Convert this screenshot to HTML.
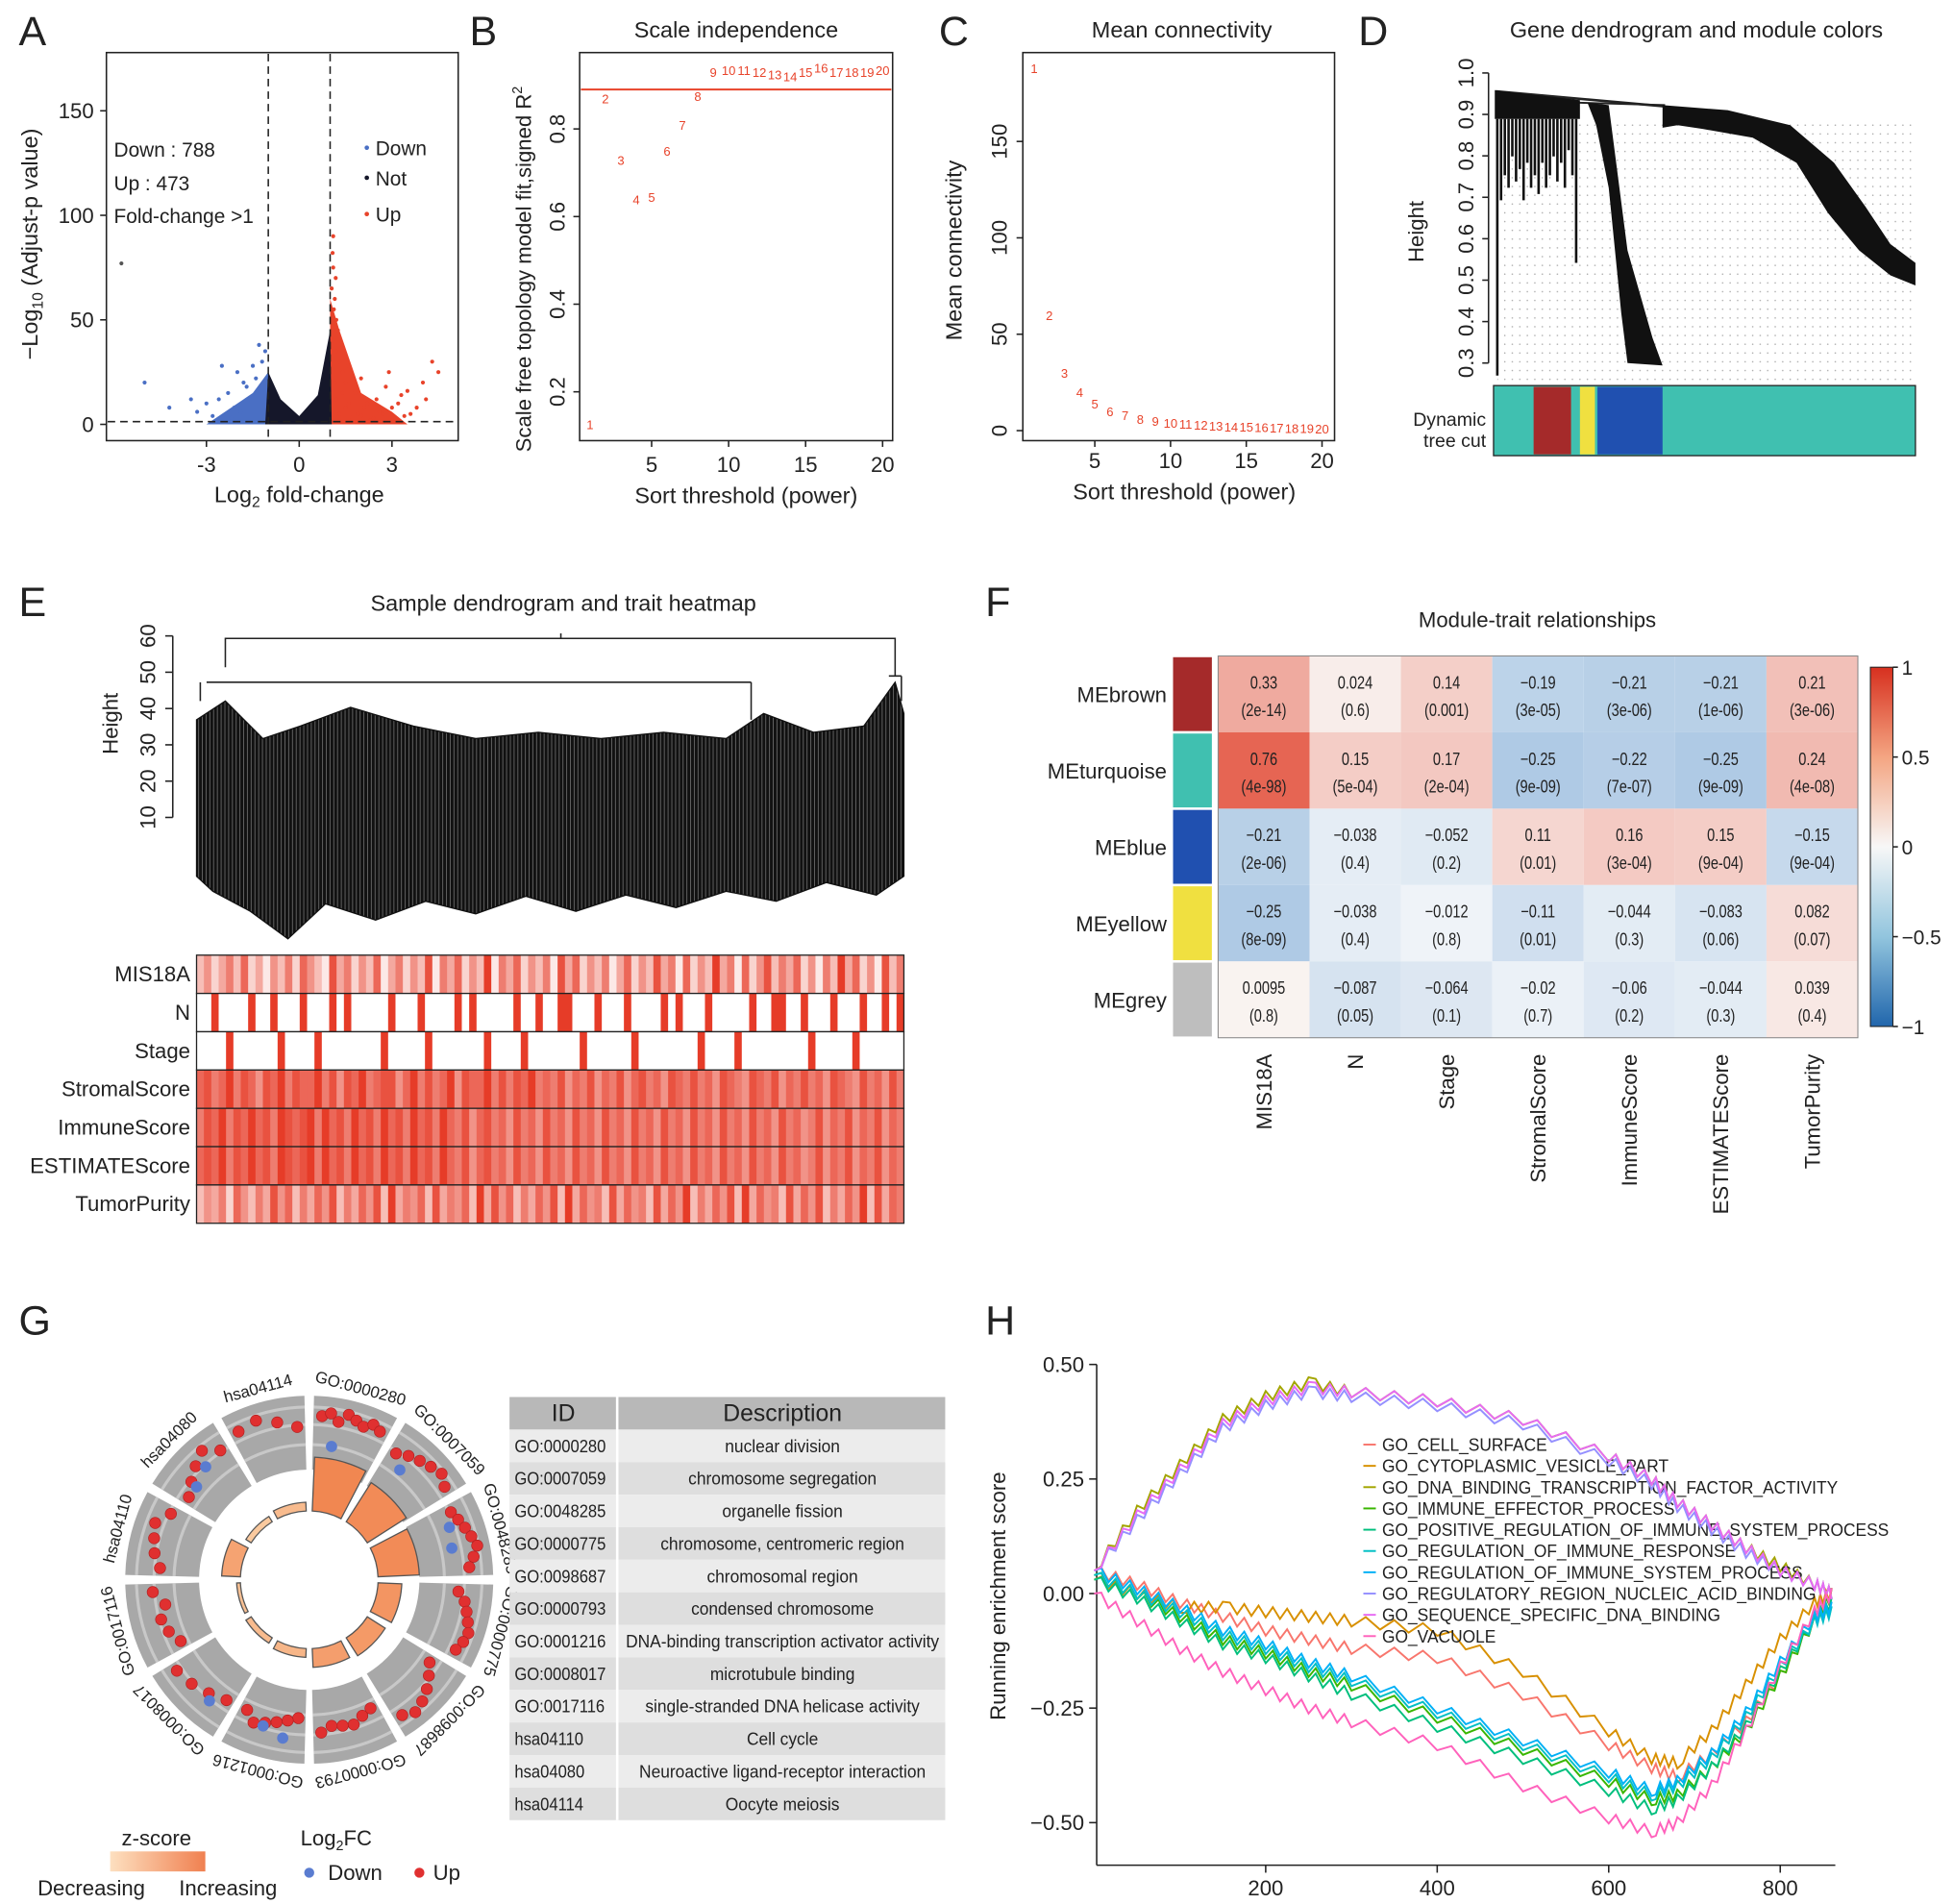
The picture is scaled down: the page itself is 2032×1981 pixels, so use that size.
<!DOCTYPE html>
<html><head><meta charset="utf-8">
<style>
html,body{margin:0;padding:0;background:#fff;}
svg{display:block;font-family:"Liberation Sans",sans-serif;}
</style></head>
<body>
<svg id="fig" xmlns="http://www.w3.org/2000/svg" width="2032" height="1981" viewBox="0 0 1560 1521" preserveAspectRatio="none">
<defs>
<pattern id="dots" width="6" height="7" patternUnits="userSpaceOnUse"><circle cx="2" cy="2" r="0.6" fill="#aaa"/></pattern>
<pattern id="vlines" width="3" height="4" patternUnits="userSpaceOnUse"><rect width="3" height="4" fill="#666"/><rect width="2.3" height="4" fill="#111"/></pattern>
<pattern id="vlines2" width="2.5" height="4" patternUnits="userSpaceOnUse"><rect width="2.5" height="4" fill="#fff"/><rect width="1.5" height="4" fill="#111"/></pattern>
<linearGradient id="cbar" x1="0" y1="0" x2="0" y2="1"><stop offset="0" stop-color="#d7301f"/><stop offset="0.25" stop-color="#f4a582"/><stop offset="0.5" stop-color="#f7f7f7"/><stop offset="0.75" stop-color="#92c5de"/><stop offset="1" stop-color="#2166ac"/></linearGradient>
<linearGradient id="zbar" x1="0" y1="0" x2="1" y2="0"><stop offset="0" stop-color="#fde0c0"/><stop offset="1" stop-color="#f08050"/></linearGradient>
</defs>
</svg>
<script>
// ---------- data ----------
const volcUpX=[1.1,1.1,1.15,1.2,1.1,1.2,1.3,1.25,1.4,1.5,1.6,1.8,2.0,2.2,2.5,2.8,3.0,3.3,3.6,4.0,4.3,4.5,1.3,1.5,1.7,2.0,2.3,2.6,3.0,3.4,1.2,1.4,1.6,1.9,2.1,2.4,2.7,3.2,3.8,1.15,1.05,1.08,1.12,1.18,2.9,3.5,4.1];
const volcUpY=[90,75,60,50,40,35,30,45,25,20,28,15,22,10,12,18,8,14,5,20,30,25,5,8,3,4,2,6,2,4,12,15,10,5,8,3,5,10,8,20,65,82,55,70,25,16,12];
const volcDownX=[-1.2,-1.5,-1.8,-2.0,-2.3,-2.6,-3.0,-3.3,-1.4,-1.7,-2.1,-2.8,-3.5,-4.2,-5.0,-1.1,-1.3,-2.5,-1.6,-1.9,-2.2];
const volcDownY=[30,28,20,25,15,12,10,6,22,18,8,4,12,8,20,35,38,28,12,6,3];
const sfPower=[1,2,3,4,5,6,7,8,9,10,11,12,13,14,15,16,17,18,19,20];
const sfR2=[0.126,0.87,0.73,0.64,0.645,0.75,0.81,0.875,0.93,0.935,0.935,0.93,0.925,0.92,0.93,0.94,0.93,0.93,0.93,0.935];
const mcK=[188,60,30,20,14,10,8,6,5,4,3.5,3,2.5,2.2,2,1.8,1.6,1.4,1.3,1.2];
const modNames=["MEbrown","MEturquoise","MEblue","MEyellow","MEgrey"];
const modColors=["#a52a2a","#40c0b0","#2050b0","#f0e040","#bebebe"];
const traitNames=["MIS18A","N","Stage","StromalScore","ImmuneScore","ESTIMATEScore","TumorPurity"];
const corVals=[[0.33,0.024,0.14,-0.19,-0.21,-0.21,0.21],[0.76,0.15,0.17,-0.25,-0.22,-0.25,0.24],[-0.21,-0.038,-0.052,0.11,0.16,0.15,-0.15],[-0.25,-0.038,-0.012,-0.11,-0.044,-0.083,0.082],[0.0095,-0.087,-0.064,-0.02,-0.06,-0.044,0.039]];
const pVals=[["2e-14","0.6","0.001","3e-05","3e-06","1e-06","3e-06"],["4e-98","5e-04","2e-04","9e-09","7e-07","9e-09","4e-08"],["2e-06","0.4","0.2","0.01","3e-04","9e-04","9e-04"],["8e-09","0.4","0.8","0.01","0.3","0.06","0.07"],["0.8","0.05","0.1","0.7","0.2","0.3","0.4"]];
const traitRows=["MIS18A","N","Stage","StromalScore","ImmuneScore","ESTIMATEScore","TumorPurity"];
const traitStr=[
"352463724153627531846253714625381647253916472536184725361472538461725394617258364725163947251836",
"009000090090009000909000009000900009090000090090099000900090000909000900000900990090009000900909",
"000090000009000090000000090000090000000900009000000090000009000000009000090000000009000009000000",
"786796875879687796858796788579686795877968687967685768576857867587686758765876857686758765867586",
"687968797869878969786978697869786976857867586758675867586758675867586758675867586756857685768576",
"787968797869878969786978697869786976857867586758675867586758675867586758675867586756857685768576",
"354627536485736475836475839465738465739485736475839475638475638475936475839475638475836475938476"];
const goIds=["GO:0000280","GO:0007059","GO:0048285","GO:0000775","GO:0098687","GO:0000793","GO:0001216","GO:0008017","GO:0017116","hsa04110","hsa04080","hsa04114"];
const goDesc=["nuclear division","chromosome segregation","organelle fission","chromosome, centromeric region","chromosomal region","condensed chromosome","DNA-binding transcription activator activity","microtubule binding","single-stranded DNA helicase activity","Cell cycle","Neuroactive ligand-receptor interaction","Oocyte meiosis"];
const goBarLen=[98,92,88,74,72,70,62,60,58,70,60,62];
const goZ=[0.9,0.85,0.85,0.75,0.7,0.65,0.4,0.35,0.3,0.6,0.2,0.35];
const goUpFC=[[3.2,3.4,3.0,3.5,3.3,3.1,3.4,3.2],[2.6,2.9,3.1,3.3,3.5,3.2],[2.8,3.0,3.2,3.4,3.6,3.3,3.0],[2.4,2.8,3.0,3.2,3.4,3.3,3.1],[2.2,2.6,3.0,3.3,3.5,3.2],[2.0,2.2,2.5,2.4,2.3,2.6],[1.8,2.0,2.2,2.4,2.6,2.1],[2.2,2.5,2.8,3.0],[2.0,2.4,2.6,2.2,2.8],[2.4,2.8,3.0,3.2,2.6],[2.2,2.6,3.0,3.4,2.8],[3.2,3.4,3.0,2.6]];
const goDownFC=[[1.6],[2.0],[2.4,2.2],[],[],[],[3.0,2.6],[2.8],[],[],[2.2,2.6],[]];
const gseaX=[0,50,100,150,200,250,300,400,500,600,650,680,720,760,800,840,860];
const gseaNames=["GO_CELL_SURFACE","GO_CYTOPLASMIC_VESICLE_PART","GO_DNA_BINDING_TRANSCRIPTION_FACTOR_ACTIVITY","GO_IMMUNE_EFFECTOR_PROCESS","GO_POSITIVE_REGULATION_OF_IMMUNE_SYSTEM_PROCESS","GO_REGULATION_OF_IMMUNE_RESPONSE","GO_REGULATION_OF_IMMUNE_SYSTEM_PROCESS","GO_REGULATORY_REGION_NUCLEIC_ACID_BINDING","GO_SEQUENCE_SPECIFIC_DNA_BINDING","GO_VACUOLE"];
const gseaColors=["#f8766d","#d89000","#a3a500","#39b600","#00bf7d","#00bfc4","#00b0f6","#9590ff","#e76bf3","#ff62bc"];
const gseaCellSurface=[0.05,0.02,-0.02,-0.05,-0.08,-0.1,-0.12,-0.14,-0.22,-0.33,-0.38,-0.40,-0.35,-0.28,-0.18,-0.06,0.0];
const gseaVesicle=[0.03,0.0,-0.03,-0.03,-0.04,-0.05,-0.06,-0.08,-0.17,-0.30,-0.36,-0.37,-0.30,-0.20,-0.10,-0.02,0.0];
const gseaDnaTf=[0.05,0.18,0.28,0.38,0.43,0.46,0.44,0.42,0.38,0.30,0.25,0.20,0.15,0.10,0.06,0.02,0.0];
const gseaImmEff=[0.04,0.0,-0.05,-0.10,-0.13,-0.17,-0.20,-0.27,-0.34,-0.41,-0.45,-0.44,-0.38,-0.30,-0.18,-0.06,0.0];
const gseaPosReg=[0.03,-0.01,-0.06,-0.11,-0.14,-0.18,-0.22,-0.29,-0.36,-0.43,-0.47,-0.45,-0.38,-0.29,-0.17,-0.06,-0.02];
const gseaRegResp=[0.04,0.0,-0.04,-0.09,-0.12,-0.16,-0.19,-0.26,-0.33,-0.40,-0.44,-0.42,-0.36,-0.27,-0.16,-0.06,-0.04];
const gseaRegSys=[0.05,0.01,-0.03,-0.08,-0.11,-0.15,-0.18,-0.25,-0.32,-0.39,-0.43,-0.41,-0.35,-0.26,-0.15,-0.05,-0.03];
const gseaRegRegion=[0.05,0.16,0.26,0.36,0.41,0.44,0.43,0.41,0.37,0.29,0.24,0.19,0.14,0.09,0.05,0.02,0.0];
const gseaSeqSpec=[0.05,0.17,0.27,0.37,0.42,0.45,0.44,0.42,0.38,0.30,0.25,0.20,0.15,0.10,0.05,0.02,0.0];
const gseaVacuole=[0.0,-0.06,-0.12,-0.17,-0.21,-0.25,-0.28,-0.33,-0.42,-0.49,-0.52,-0.50,-0.42,-0.30,-0.16,-0.04,0.0];
const gseaSeries=[gseaCellSurface,gseaVesicle,gseaDnaTf,gseaImmEff,gseaPosReg,gseaRegResp,gseaRegSys,gseaRegRegion,gseaSeqSpec,gseaVacuole];

// ---------- helpers ----------
const NS="http://www.w3.org/2000/svg";
const S=document.getElementById('fig');
function mk(tag,attrs,parent,name){
  const e=document.createElementNS(NS,tag);
  for(const k in attrs) e.setAttribute(k,attrs[k]);
  
  
  (parent||S).appendChild(e);
  return e;
}
function txt(x,y,s,size,anchor,name,extra,parent){
  const a=Object.assign({x:x,y:y,'font-size':size,'text-anchor':anchor||'start',fill:'#222'},extra||{});
  const t=mk('text',a,parent,name);
  t.textContent=s;
  return t;
}
function line(x1,y1,x2,y2,name,extra,parent){
  return mk('line',Object.assign({x1:x1,y1:y1,x2:x2,y2:y2,stroke:'#222','stroke-width':1.2},extra||{}),parent,name);
}
function g(name){return mk('g',{},S,name);}

[["A",15,36],["B",375,36],["C",750,36],["D",1085,36],["E",15,492],["F",787,492],["G",15,1066],["H",787,1066]].forEach(p=>{
  txt(p[1],p[2],p[0],33,'start','panel-label-'+p[0].toLowerCase());
});

// ---------- Panel A volcano ----------
(function(){
  const G=g('volcano-plot');
  const xs=v=>239+v*24.7, ys=v=>339-v*1.67;
  mk('rect',{x:85,y:42,width:281,height:310,fill:'none',stroke:'#222','stroke-width':1.2},G,'volcano-frame');
  mk('polygon',{points:[[xs(-1),ys(0)],[xs(-1),ys(25)],[xs(-1.5),ys(15)],[xs(-2.5),ys(5)],[xs(-3),ys(0)]].join(' '),fill:'#4a6fc4'},G,'down-cloud');
  mk('polygon',{points:[[xs(1),ys(0)],[xs(1),ys(60)],[xs(1.3),ys(45)],[xs(2),ys(15)],[xs(3),ys(6)],[xs(3.5),ys(0)]].join(' '),fill:'#e8432a'},G,'up-cloud');
  mk('polygon',{points:[[xs(-1.1),ys(0)],[xs(-1),ys(25)],[xs(-0.6),ys(12)],[xs(0),ys(4)],[xs(0.6),ys(14)],[xs(1),ys(45)],[xs(1.05),ys(0)]].join(' '),fill:'#15172a'},G,'not-cloud');
  volcUpX.forEach((v,i)=>{mk('circle',{cx:xs(v),cy:ys(volcUpY[i]),r:1.6,fill:'#e8432a'},G,'up-point');});
  volcDownX.forEach((v,i)=>{mk('circle',{cx:xs(v),cy:ys(volcDownY[i]),r:1.6,fill:'#4a6fc4'},G,'down-point');});
  mk('circle',{cx:xs(-5.75),cy:ys(77),r:1.6,fill:'#555'},G,'outlier-point');
  line(xs(-1),43,xs(-1),351,'threshold-line-left',{'stroke-dasharray':'6,4'},G);
  line(xs(1),43,xs(1),351,'threshold-line-right',{'stroke-dasharray':'6,4'},G);
  line(86,ys(1.3),365,ys(1.3),'pvalue-threshold-line',{'stroke-dasharray':'6,4'},G);
  [0,50,100,150].forEach(v=>{line(80,ys(v),85,ys(v),'y-tick',{},G);txt(75,ys(v)+6,String(v),17,'end','y-tick-label',{},G);});
  [-3,0,3].forEach(v=>{line(xs(v),352,xs(v),357,'x-tick',{},G);txt(xs(v),377,String(v),17,'middle','x-tick-label',{},G);});
  txt(91,125,"Down : 788",16,'start','down-count',{},G);
  txt(91,152,"Up : 473",16,'start','up-count',{},G);
  txt(91,178,"Fold-change >1",16,'start','fold-change-note',{},G);
  [["Down","#4a6fc4",124],["Not","#15172a",148],["Up","#e8432a",177]].forEach(l=>{
    mk('circle',{cx:293,cy:l[2]-6,r:1.8,fill:l[1]},G,'legend-dot');
    txt(300,l[2],l[0],16,'start','legend-entry',{},G);
  });
  const t=txt(239,401,"",18,'middle','x-axis-title',{},G);
  t.innerHTML='Log<tspan font-size="12" dy="4">2</tspan><tspan dy="-4"> fold-change</tspan>';
  const t2=txt(0,0,"",18,'middle','y-axis-title',{transform:'translate(30,195) rotate(-90)'},G);
  t2.innerHTML='−Log<tspan font-size="12" dy="4">10</tspan><tspan dy="-4"> (Adjust-p value)</tspan>';
})();

// ---------- Panel B ----------
(function(){
  const G=g('scale-independence-plot');
  const xs=v=>459+v*12.3, ys=v=>383-v*350;
  mk('rect',{x:463,y:42,width:250,height:310,fill:'none',stroke:'#222','stroke-width':1.2},G,'frame');
  txt(588,30,"Scale independence",18,'middle','chart-title',{},G);
  line(464,ys(0.89),712,ys(0.89),'r2-cutoff-line',{stroke:'#e8432a','stroke-width':1.5},G);
  sfPower.forEach((p,i)=>{txt(xs(p),ys(sfR2[i])+4,String(p),10,'middle','power-point',{fill:'#e8432a'},G);});
  [0.2,0.4,0.6,0.8].forEach(v=>{line(458,ys(v),463,ys(v),'y-tick',{},G);txt(0,0,String(v),17,'middle','y-tick-label',{transform:`translate(451,${ys(v)}) rotate(-90)`},G);});
  [5,10,15,20].forEach(v=>{line(xs(v),352,xs(v),357,'x-tick',{},G);txt(xs(v),377,String(v),17,'middle','x-tick-label',{},G);});
  txt(596,402,"Sort threshold (power)",18,'middle','x-axis-title',{},G);
  const t=txt(0,0,"",17,'middle','y-axis-title',{transform:'translate(424,215) rotate(-90)'},G);
  t.innerHTML='Scale free topology model fit,signed R<tspan font-size="11" dy="-7">2</tspan>';
})();

// ---------- Panel C ----------
(function(){
  const G=g('mean-connectivity-plot');
  const xs=v=>814+v*12.1, ys=v=>344-v*1.54;
  mk('rect',{x:817,y:42,width:249,height:310,fill:'none',stroke:'#222','stroke-width':1.2},G,'frame');
  txt(944,30,"Mean connectivity",18,'middle','chart-title',{},G);
  sfPower.forEach((p,i)=>{txt(xs(p),ys(mcK[i])+4,String(p),10,'middle','power-point',{fill:'#e8432a'},G);});
  [0,50,100,150].forEach(v=>{line(812,ys(v),817,ys(v),'y-tick',{},G);txt(0,0,String(v),17,'middle','y-tick-label',{transform:`translate(804,${ys(v)}) rotate(-90)`},G);});
  [5,10,15,20].forEach(v=>{line(xs(v),352,xs(v),357,'x-tick',{},G);txt(xs(v),374,String(v),17,'middle','x-tick-label',{},G);});
  txt(946,399,"Sort threshold (power)",18,'middle','x-axis-title',{},G);
  txt(0,0,"Mean connectivity",18,'middle','y-axis-title',{transform:'translate(768,200) rotate(-90)'},G);
})();

// ---------- Panel D ----------
(function(){
  const G=g('gene-dendrogram');
  txt(1355,30,"Gene dendrogram and module colors",18,'middle','chart-title',{},G);
  mk('rect',{x:1196,y:95,width:334,height:210,fill:'url(#dots)'},G,'dendrogram-grid');
  const ys=v=>290-(v-0.3)*331;
  [0.3,0.4,0.5,0.6,0.7,0.8,0.9,1.0].forEach(v=>{line(1184,ys(v),1189,ys(v),'y-tick',{},G);txt(0,0,v.toFixed(1),17,'middle','y-tick-label',{transform:`translate(1177,${ys(v)}) rotate(-90)`},G);});
  line(1189,ys(1.0),1189,ys(0.3),'y-axis',{},G);
  txt(0,0,"Height",17,'middle','y-axis-title',{transform:'translate(1137,185) rotate(-90)'},G);
  line(1195,73,1330,85,'top-merge',{'stroke-width':2},G);
  line(1260,82,1330,84,'top-merge-2',{'stroke-width':1.5},G);
  mk('path',{d:'M1194,72 L1262,80 L1262,95 L1194,95 Z',fill:'#111'},G,'brown-cluster-top');
  mk('path',{d:'M1196,95 L1196,300 M1199,95 L1199,160 M1202,95 L1202,140 M1205,95 L1205,150 M1208,95 L1208,125 M1211,95 L1211,145 M1214,95 L1214,135 M1217,95 L1217,160 M1220,95 L1220,130 M1223,95 L1223,150 M1226,95 L1226,140 M1229,95 L1229,155 M1232,95 L1232,130 M1235,95 L1235,150 M1238,95 L1238,140 M1241,95 L1241,125 M1244,95 L1244,145 M1247,95 L1247,130 M1250,95 L1250,150 M1253,95 L1253,120 M1256,95 L1256,140 M1259,95 L1259,210',fill:'none',stroke:'#111','stroke-width':2},G,'brown-cluster-leaves');
  mk('path',{d:'M1268,82 L1285,84 L1300,200 L1320,270 L1328,292 L1300,290 L1295,250 L1285,150 L1275,100 Z',fill:'#111'},G,'blue-cluster');
  mk('path',{d:'M1328,84 L1380,88 L1430,100 L1465,130 L1490,165 L1510,195 L1530,210 L1530,228 L1510,220 L1485,200 L1460,170 L1435,130 L1400,110 L1360,103 L1340,100 L1328,102 Z',fill:'#111'},G,'turquoise-cluster');
  mk('rect',{x:1193,y:308,width:337,height:56,fill:'#40c0b0',stroke:'#222'},G,'module-color-bar');
  [["#a52a2a",1225,30],["#40c0b0",1255,7],["#f0e040",1262,12],["#2050b0",1276,52]].forEach(c=>{mk('rect',{x:c[1],y:309,width:c[2],height:54,fill:c[0]},G,'module-block');});
  txt(1187,340,"Dynamic",15,'end','color-bar-label',{},G);
  txt(1187,357,"tree cut",15,'end','color-bar-label-2',{},G);
})();

// ---------- Panel E ----------
(function(){
  const G=g('sample-dendrogram-heatmap');
  txt(450,488,"Sample dendrogram and trait heatmap",18,'middle','chart-title',{},G);
  const ys=v=>653-(v-10)*2.9;
  [10,20,30,40,50,60].forEach(v=>{line(132,ys(v),138,ys(v),'y-tick',{},G);txt(0,0,String(v),17,'middle','y-tick-label',{transform:`translate(124,${ys(v)}) rotate(-90)`},G);});
  line(138,ys(10),138,ys(60),'y-axis',{},G);
  txt(0,0,"Height",17,'middle','y-axis-title',{transform:'translate(94,578) rotate(-90)'},G);
  mk('path',{d:'M180,533 L180,510 L715,510 L715,540 M448,510 L448,506 M160,545 L160,560 M165,545 L600,545 M600,545 L600,575 M710,540 L720,540 M720,540 L720,560',fill:'none',stroke:'#222','stroke-width':1.2},G,'top-branches');
  mk('path',{d:'M157,575 L180,560 L210,590 L240,580 L280,565 L330,580 L380,590 L430,585 L480,590 L530,585 L580,590 L610,570 L650,585 L690,580 L715,545 L722,570 L722,700 L700,715 L660,705 L620,720 L580,712 L540,725 L500,715 L460,728 L420,716 L380,730 L340,720 L300,735 L260,722 L230,750 L200,728 L170,712 L157,700 Z',fill:'url(#vlines)',stroke:'#111','stroke-width':1},G,'dendrogram-leaves');
  const x0=157,x1=722,y0=763,rh=30.6;
  traitStr.forEach((s,r)=>{
    const n=s.length,w=(x1-x0)/n;
    for(let i=0;i<n;i++){
      const d=+s[i], t=d/9;
      const col=`rgb(${Math.round(255-25*t)},${Math.round(255-195*t)},${Math.round(255-215*t)})`;
      mk('rect',{x:x0+i*w,y:y0+r*rh,width:w+0.4,height:rh,fill:col},G,'trait-cell');
    }
    mk('rect',{x:x0,y:y0+r*rh,width:x1-x0,height:rh,fill:'none',stroke:'#222','stroke-width':1},G,'trait-row-border');
    txt(152,y0+r*rh+21,traitRows[r],17,'end','trait-row-label',{},G);
  });
})();

// ---------- Panel F ----------
(function(){
  const G=g('module-trait-heatmap');
  txt(1228,501,"Module-trait relationships",17,'middle','chart-title',{},G);
  const cx0=973,cw=73,ry0=524,rh=61;
  function col(r){
    const t=Math.min(1,Math.pow(Math.abs(r),0.75));
    if(r>=0) return `rgb(${Math.round(250-25*t)},${Math.round(248-180*t)},${Math.round(246-200*t)})`;
    return `rgb(${Math.round(246-200*t)},${Math.round(248-130*t)},${Math.round(250-60*t)})`;
  }
  corVals.forEach((row,r)=>{
    mk('rect',{x:937,y:ry0+r*rh+1,width:31,height:rh-2,fill:modColors[r]},G,'module-swatch');
    txt(932,ry0+r*rh+37,modNames[r],17,'end','module-label',{},G);
    row.forEach((v,c)=>{
      mk('rect',{x:cx0+c*cw,y:ry0+r*rh,width:cw,height:rh,fill:col(v)},G,'heatmap-cell');
      txt(cx0+c*cw+cw/2,ry0+r*rh+26,String(v).replace('-','−'),14,'middle','cell-value',{transform:`scale(0.8,1)`,'transform-origin':`${cx0+c*cw+cw/2} 0`},G);
      txt(cx0+c*cw+cw/2,ry0+r*rh+48,'('+pVals[r][c]+')',14,'middle','cell-pvalue',{transform:`scale(0.8,1)`,'transform-origin':`${cx0+c*cw+cw/2} 0`},G);
    });
  });
  mk('rect',{x:cx0,y:ry0,width:cw*7,height:rh*5,fill:'none',stroke:'#888','stroke-width':0.8},G,'heatmap-frame');
  traitNames.forEach((t,c)=>{txt(0,0,t,17,'end','trait-label',{transform:`translate(${cx0+c*cw+cw/2+6},842) rotate(-90)`},G);});
  mk('rect',{x:1494,y:533,width:18,height:287,fill:'url(#cbar)',stroke:'#222','stroke-width':0.8},G,'colorbar');
  [[1,'1'],[0.5,'0.5'],[0,'0'],[-0.5,'−0.5'],[-1,'−1']].forEach(a=>{const y=676.5-a[0]*143.5;line(1512,y,1516,y,'colorbar-tick',{},G);txt(1519,y+6,a[1],16,'start','colorbar-label',{},G);});
})();

// ---------- Panel G circle ----------
(function(){
  const G=g('go-circle-plot');
  const cx=247,cy=1262;
  const P=(a,r)=>[cx+r*Math.sin(a*Math.PI/180),cy-r*Math.cos(a*Math.PI/180)];
  function sector(a0,a1,r0,r1,fill,name,stroke){
    const p0=P(a0,r1),p1=P(a1,r1),p2=P(a1,r0),p3=P(a0,r0);
    return mk('path',{d:`M${p0} A${r1},${r1} 0 0 1 ${p1} L${p2} A${r0},${r0} 0 0 0 ${p3} Z`,fill:fill,stroke:stroke||'none'},G,name);
  }
  const fcR=v=>92+(v-0.5)*14.5;
  goIds.forEach((id,i)=>{
    const a0=i*30+1.5,a1=i*30+28.5,am=i*30+15;
    sector(a0,a1,88,147,'#a8a8a8','go-sector');
    [108,124,138].forEach(r=>sector(a0,a1,r-1.2,r+1.2,'#c8c8c8','sector-band'));
    const z=goZ[i];
    const fc=`rgb(${Math.round(252-12*z)},${Math.round(220-95*z)},${Math.round(180-110*z)})`;
    sector(a0+1,a1-1,55,goBarLen[i],fc,'zscore-bar','#555');
    const ups=goUpFC[i];
    ups.forEach((v,k)=>{const p=P(a0+3+k*(a1-a0-6)/Math.max(1,ups.length-1),fcR(v));mk('circle',{cx:p[0],cy:p[1],r:4.5,fill:'#e03030',stroke:'#b02020','stroke-width':0.5},G,'up-gene-dot');});
    goDownFC[i].forEach((v,k)=>{const p=P(a0+8+k*8,fcR(v));mk('circle',{cx:p[0],cy:p[1],r:4.5,fill:'#5a7cd0'},G,'down-gene-dot');});
    const lp=P(am,158);
    txt(lp[0],lp[1]+4,id,13,'middle','sector-label',{transform:`rotate(${am} ${lp[0]} ${lp[1]})`},G);
  });
  txt(125,1474,"z-score",17,'middle','zscore-legend-title',{},G);
  mk('rect',{x:88,y:1479,width:76,height:16,fill:'url(#zbar)'},G,'zscore-gradient');
  txt(30,1514,"Decreasing",17,'start','zscore-low-label',{},G);
  txt(143,1514,"Increasing",17,'start','zscore-high-label',{},G);
  const t=txt(240,1474,"",17,'start','log2fc-legend-title',{},G);
  t.innerHTML='Log<tspan font-size="11" dy="4">2</tspan><tspan dy="-4">FC</tspan>';
  mk('circle',{cx:247,cy:1496,r:4,fill:'#5a7cd0'},G,'legend-down-dot');
  txt(262,1502,"Down",17,'start','legend-down-label',{},G);
  mk('circle',{cx:335,cy:1496,r:4,fill:'#e03030'},G,'legend-up-dot');
  txt(346,1502,"Up",17,'start','legend-up-label',{},G);
})();

// ---------- Panel G table ----------
(function(){
  const G=g('go-table');
  mk('rect',{x:407,y:1116,width:348,height:26,fill:'#b8b8b8'},G,'table-header');
  txt(450,1135,"ID",19,'middle','header-id',{},G);
  txt(625,1135,"Description",19,'middle','header-description',{},G);
  goIds.forEach((id,i)=>{
    const y=1142+i*26;
    mk('rect',{x:407,y:y,width:348,height:26,fill:i%2?'#dedede':'#ececec'},G,'table-row');
    txt(411,y+18,id,14.5,'start','table-id',{transform:'scale(0.88,1)','transform-origin':'411 0'},G);
    txt(625,y+18,goDesc[i],14.5,'middle','table-description',{transform:'scale(0.92,1)','transform-origin':'625 0'},G);
  });
  line(493,1116,493,1454,'column-divider',{stroke:'#fff','stroke-width':2},G);
})();

// ---------- Panel H GSEA ----------
(function(){
  const G=g('gsea-plot');
  const xs=v=>874+v*0.685, ys=v=>1273-v*366;
  line(876,1090,876,1490,'y-axis',{},G);
  line(876,1490,1466,1490,'x-axis',{},G);
  [[0.5,'0.50'],[0.25,'0.25'],[0,'0.00'],[-0.25,'−0.25'],[-0.5,'−0.50']].forEach(a=>{line(870,ys(a[0]),876,ys(a[0]),'y-tick',{},G);txt(866,ys(a[0])+6,a[1],17,'end','y-tick-label',{},G);});
  [200,400,600,800].forEach(v=>{line(xs(v),1490,xs(v),1496,'x-tick',{},G);txt(xs(v),1514,String(v),17,'middle','x-tick-label',{},G);});
  txt(0,0,"Running enrichment score",17,'middle','y-axis-title',{transform:'translate(803,1275) rotate(-90)'},G);
  gseaSeries.forEach((ser,s)=>{
    let d='';
    ser.forEach((v,i)=>{
      if(i===0){d+=`M${xs(gseaX[i])},${ys(v)}`;return;}
      const xp=gseaX[i-1],vp=ser[i-1],steps=6;
      for(let k=1;k<=steps;k++){
        const xx=xp+(gseaX[i]-xp)*k/steps, vv=vp+(v-vp)*k/steps;
        const jig=(k%2?1:-1)*0.012*(v<vp?1:-1);
        d+=` L${xs(xx)},${ys(vv+jig)}`;
      }
    });
    mk('path',{d:d,fill:'none',stroke:gseaColors[s],'stroke-width':1.5},G,'gsea-line');
    const ly=1159+s*17;
    line(1089,ly-5,1099,ly-5,'legend-swatch',{stroke:gseaColors[s],'stroke-width':1.5},G);
    txt(1104,ly,gseaNames[s],14.5,'start','legend-entry',{transform:'scale(0.92,1)','transform-origin':'1104 0'},G);
  });
})();
</script>
</body></html>
